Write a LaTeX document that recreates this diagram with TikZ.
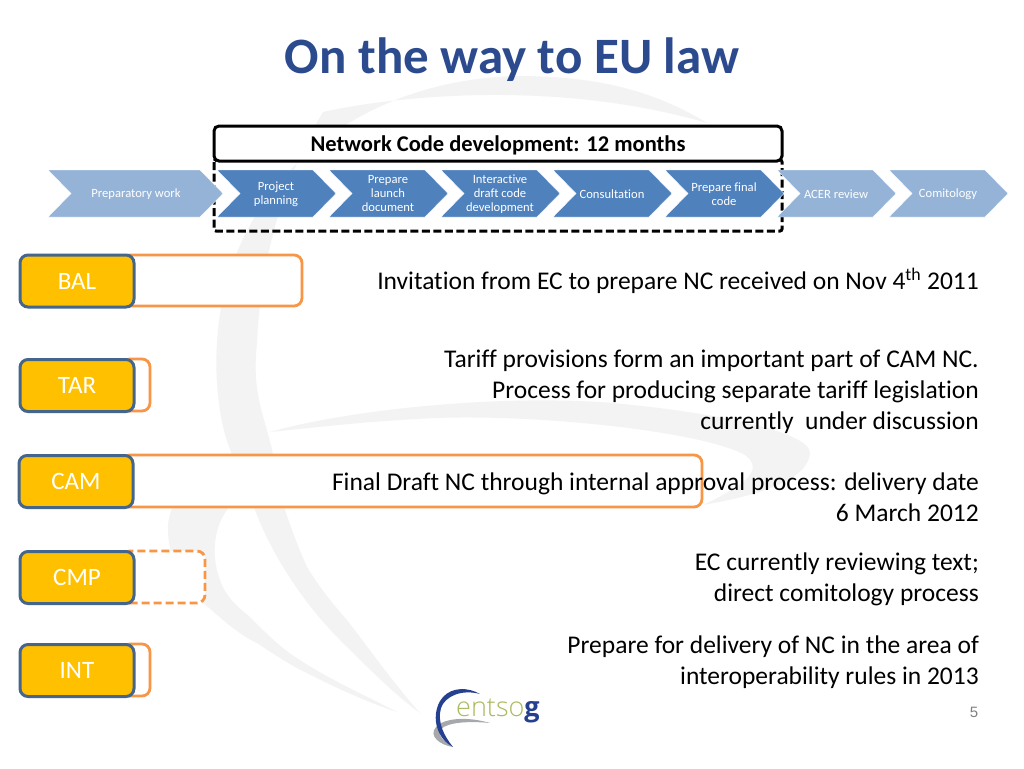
\documentclass[tikz,border=0pt]{standalone}
\usepackage{fontspec}
\setmainfont{Carlito}[Ligatures=NoCommon]
\newfontfamily\arialfont{Liberation Sans}
\newfontfamily\logofont{Open Sans Light}[BoldFont={Open Sans Bold}]
\definecolor{titleblue}{HTML}{2C4A8E}
\definecolor{chevdark}{HTML}{4F81BD}
\definecolor{chevlight}{HTML}{95B3D7}
\definecolor{tagfill}{HTML}{FFC000}
\definecolor{tagline}{HTML}{46658A}
\definecolor{barline}{HTML}{F79646}
\definecolor{wmark}{HTML}{F3F3F3}
\definecolor{logoblue}{HTML}{24408E}
\definecolor{logogreen}{HTML}{A9BB5F}
\definecolor{logogrey}{HTML}{A6A8AB}
\tikzset{
  x=1pt,y=-1pt,
  bartrack/.style={draw=barline,line width=2.8pt,fill=white,rounded corners=8pt},
  tagbox/.style={draw=tagline,line width=3pt,fill=tagfill,rounded corners=8pt,text=white,
     minimum width=114pt,minimum height=52pt,inner sep=0pt,font=\fontsize{25}{28}\selectfont},
  bodytext/.style={anchor=east,align=right,inner sep=0pt,font=\fontsize{25.5}{31}\selectfont},
  chevtext/.style={text=white,align=center,inner sep=0pt,font=\fontsize{12.6}{14}\selectfont},
}
% #1 left x, #2 colour
\newcommand{\chevshape}[2]{\fill[#2,draw=white,line width=.4pt] (#1,170)--(#1+96,170)--(#1+119,193.5)--(#1+96,217)--(#1,217)--(#1+23,193.5)--cycle;}
\begin{document}
\begin{tikzpicture}
\useasboundingbox (0,0) rectangle (1024,768);
\fill[white] (0,0) rectangle (1024,768);
% watermark
\fill[wmark] (707,123) .. controls (650,88) and (590,76) .. (517,76)
  .. controls (350,80) and (225,190) .. (217,343)
  .. controls (214,390) and (222,430) .. (230,449)
  .. controls (238,475) and (246,490) .. (255,510)
  .. controls (270,550) and (300,600) .. (340,640)
  .. controls (365,665) and (395,695) .. (420,713)
  .. controls (395,685) and (370,650) .. (347,620)
  .. controls (325,595) and (315,580) .. (307,567)
  .. controls (297,545) and (290,525) .. (285,510)
  .. controls (278,490) and (275,470) .. (272,449)
  .. controls (262,410) and (252,390) .. (257,343)
  .. controls (262,230) and (300,150) .. (323,112)
  .. controls (400,95) and (560,80) .. (707,123) -- cycle;
\fill[wmark] (270,432) .. controls (340,412) and (480,395) .. (600,402)
  .. controls (700,410) and (810,430) .. (810,453)
  .. controls (808,480) and (760,495) .. (703,505)
  .. controls (745,485) and (765,470) .. (745,455)
  .. controls (700,430) and (520,412) .. (417,419)
  .. controls (360,422) and (310,428) .. (270,432) -- cycle;
\fill[wmark] (200,485) .. controls (178,495) and (170,505) .. (168,525)
  .. controls (167,560) and (185,590) .. (208,607)
  .. controls (225,622) and (240,635) .. (257,643)
  .. controls (275,655) and (290,665) .. (307,673)
  .. controls (340,690) and (370,703) .. (397,712)
  .. controls (365,695) and (330,680) .. (300,660)
  .. controls (280,648) and (265,632) .. (250,617)
  .. controls (235,605) and (225,595) .. (220,580)
  .. controls (212,560) and (212,530) .. (227,510)
  .. controls (232,500) and (240,490) .. (250,485) -- cycle;
% bars
\draw[bartrack] (122,255) rectangle (302,306);
\draw[bartrack] (122,359) rectangle (150,411);
\draw[bartrack] (122,455) rectangle (702,507);
\draw[bartrack,dash pattern=on 8pt off 4pt] (122,551) rectangle (205,603);
\draw[bartrack] (122,644) rectangle (150,696);
% body text
\node[bodytext] (t1) at (979,281) {Invitation from EC to prepare NC received on Nov 4\textsuperscript{th} 2011};
\node[bodytext] (t2) at (979,392) {Tariff provisions form an important part of CAM NC.\\Process for producing separate tariff legislation\\currently\ \ under discussion};
\node[bodytext] (t3) at (979,497) {Final Draft NC through internal approval process: delivery date\\6 March 2012};
\node[bodytext] (t4) at (979,579.5) {EC currently reviewing text;\\direct comitology process};
\node[bodytext] (t5) at (979,662) {Prepare for delivery of NC in the area of\\interoperability rules in 2013};
% tags
\node[tagbox] (bal) at (77,281) {BAL};
\node[tagbox] (tar) at (77,385.5) {TAR};
\node[tagbox] (cam) at (76,481.5) {CAM};
\node[tagbox] (cmp) at (77,577.5) {CMP};
\node[tagbox] (int) at (77,670.5) {INT};
% network code frame
\draw[black,line width=3pt,dash pattern=on 8pt off 3.5pt,rounded corners=2pt] (214,160) rectangle (782,231);
\node[draw=black,line width=3pt,fill=white,rounded corners=5pt,minimum width=568pt,minimum height=35pt,inner sep=0pt] (ncd) at (498,143.5) {};
\node[inner sep=0pt,font=\bfseries\fontsize{22.5}{24}\selectfont] (ncdlabel) at (498,145) {Network Code development: 12 months};
% chevrons
\fill[chevlight,draw=white,line width=.4pt] (48,170)--(200,170)--(223,193.5)--(200,217)--(48,217)--(71,193.5)--cycle;
\chevshape{217}{chevdark}
\chevshape{329}{chevdark}
\chevshape{441}{chevdark}
\chevshape{553}{chevdark}
\chevshape{665}{chevdark}
\chevshape{777}{chevlight}
\chevshape{889}{chevlight}
\node[chevtext] (c1) at (136,194) {Preparatory work};
\node[chevtext] (c2) at (276,194) {Project\\planning};
\node[chevtext] (c3) at (388,194) {Prepare\\launch\\document};
\node[chevtext] (c4) at (500,194) {Interactive\\draft code\\development};
\node[chevtext] (c5) at (612,194) {Consultation};
\node[chevtext] (c6) at (724,194) {Prepare final\\code};
\node[chevtext] (c7) at (836,194) {ACER review};
\node[chevtext] (c8) at (948,194) {Comitology};
% title
\node[text=titleblue,inner sep=0pt,font=\bfseries\fontsize{51}{55}\selectfont] (title) at (512,60) {On the way to EU law};
% logo
\fill[logogrey] (490,723) .. controls (470,717) and (445,717) .. (436,727)
  .. controls (428,736) and (440,745) .. (453,747)
  .. controls (445,742) and (436,735) .. (441,729)
  .. controls (448,722) and (470,721) .. (490,723) -- cycle;
\fill[logoblue] (480,694) .. controls (468,687) and (452,687) .. (443,697)
  .. controls (435,706) and (434,720) .. (438,730)
  .. controls (441,738) and (447,744) .. (453,747)
  .. controls (444,736) and (437,722) .. (441,708)
  .. controls (445,696) and (462,689) .. (480,694) -- cycle;
\node[anchor=base west,inner sep=0pt,font=\logofont\fontsize{27}{27}\selectfont] (logo) at (456,716)
  {\textcolor{logogreen}{entso}\textcolor{logoblue}{\textbf{g}}};
% page number
\node[text=gray,inner sep=0pt,font=\arialfont\fontsize{15}{18}\selectfont] (pg) at (974,712) {5};
\end{tikzpicture}
\end{document}
